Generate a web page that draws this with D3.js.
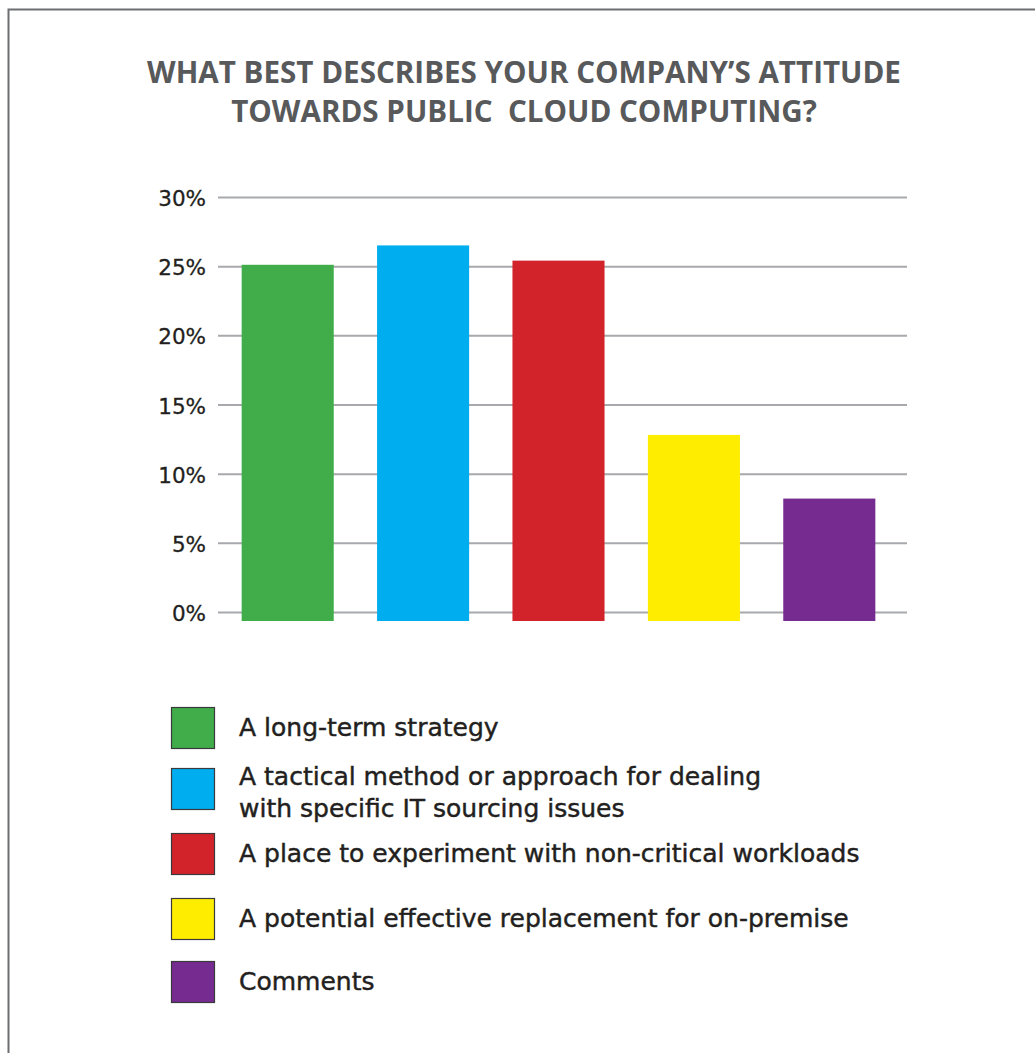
<!DOCTYPE html>
<html>
<head>
<meta charset="utf-8">
<script src="https://cdn.jsdelivr.net/npm/d3@7"></script>
<style>
  html, body { margin: 0; padding: 0; background: #fff; }
  svg { display: block; }
  .title { font-family: "Open Sans", sans-serif; font-weight: 700; fill: #58595b; }
  .tick-label { font-family: "DejaVu Sans", sans-serif; fill: #231f20; }
  .legend-text { font-family: "DejaVu Sans", sans-serif; fill: #231f20; }
</style>
</head>
<body>
<div id="chart"></div>
<script>
// survey answers, in the order they appear on the chart
const categories = [
  "A long-term strategy",
  "A tactical method or approach for dealing\nwith specific IT sourcing issues",
  "A place to experiment with non-critical workloads",
  "A potential effective replacement for on-premise",
  "Comments"
];
const values = [25.1, 26.5, 25.4, 12.8, 8.2];
const colors = ["#40ad4a", "#00adee", "#d2232a", "#ffed00", "#762b90"];
const yTicks = [0, 5, 10, 15, 20, 25, 30];
const titleLines = [
  "WHAT BEST DESCRIBES YOUR COMPANY\u2019S ATTITUDE",
  "TOWARDS PUBLIC  CLOUD COMPUTING?"
];

const width = 1035, height = 1053;

const svg = d3.select("#chart").append("svg")
  .attr("width", width)
  .attr("height", height);

// frame (only left & top visible in the picture)
svg.append("rect")
  .attr("x", 8.5).attr("y", 9.5)
  .attr("width", 1040).attr("height", 1060)
  .attr("fill", "none")
  .attr("stroke", "#6d6e71")
  .attr("stroke-width", 2);

// title
svg.selectAll(".title")
  .data(titleLines)
  .enter()
  .append("text")
  .attr("class", "title")
  .attr("x", 524)
  .attr("y", (d, i) => 83 + i * 39)
  .attr("text-anchor", "middle")
  .attr("font-size", 29.6)
  .style("white-space", "pre")
  .text(d => d);

const y = d3.scaleLinear().domain([0, 30]).range([612, 197]);
const x = d3.scaleBand()
  .domain(categories)
  .range([220, 897])
  .paddingInner(0.32)
  .paddingOuter(0.16);

// gridlines + labels through a left axis
const yAxis = d3.axisLeft(y)
  .tickValues(yTicks)
  .tickSize(-689)
  .tickPadding(12)
  .tickFormat(d => d + "%");

const axisG = svg.append("g")
  .attr("transform", "translate(218,0)")
  .call(yAxis);
axisG.select(".domain").remove();
axisG.selectAll(".tick line")
  .attr("stroke", "#a7a9ac")
  .attr("stroke-width", 2);
axisG.selectAll(".tick text")
  .attr("class", "tick-label")
  .attr("font-size", 21.5)
  .attr("dy", "0.4em")
  .attr("fill", "#231f20")
  .attr("stroke", "#231f20")
  .attr("stroke-width", 0.3);

// bars run a bit below the zero line, as in the original
const below = 9;
svg.selectAll(".bar")
  .data(values)
  .enter()
  .append("rect")
  .attr("class", "bar")
  .attr("x", (d, i) => x(categories[i]))
  .attr("width", x.bandwidth())
  .attr("y", d => y(d))
  .attr("height", d => y(0) - y(d) + below)
  .attr("fill", (d, i) => colors[i]);

// legend
const legendTop = [707, 768, 833, 898, 961];
const leg = svg.selectAll(".legend")
  .data(categories)
  .enter()
  .append("g")
  .attr("class", "legend")
  .attr("transform", (d, i) => "translate(171," + legendTop[i] + ")");

leg.append("rect")
  .attr("x", 0.5).attr("y", 0.5)
  .attr("width", 43).attr("height", 41)
  .attr("fill", (d, i) => colors[i])
  .attr("stroke", "#3a3a3c")
  .attr("stroke-width", 1.2);

leg.each(function(d) {
  const lines = d.split("\n");
  const t = d3.select(this).append("text")
    .attr("class", "legend-text")
    .attr("font-size", 25)
    .attr("stroke", "#231f20")
    .attr("stroke-width", 0.45);
  lines.forEach((ln, j) => {
    t.append("tspan")
      .attr("x", 68)
      .attr("y", lines.length > 1 ? 17 + j * 32 : 29)
      .text(ln);
  });
});
</script>
</body>
</html>
